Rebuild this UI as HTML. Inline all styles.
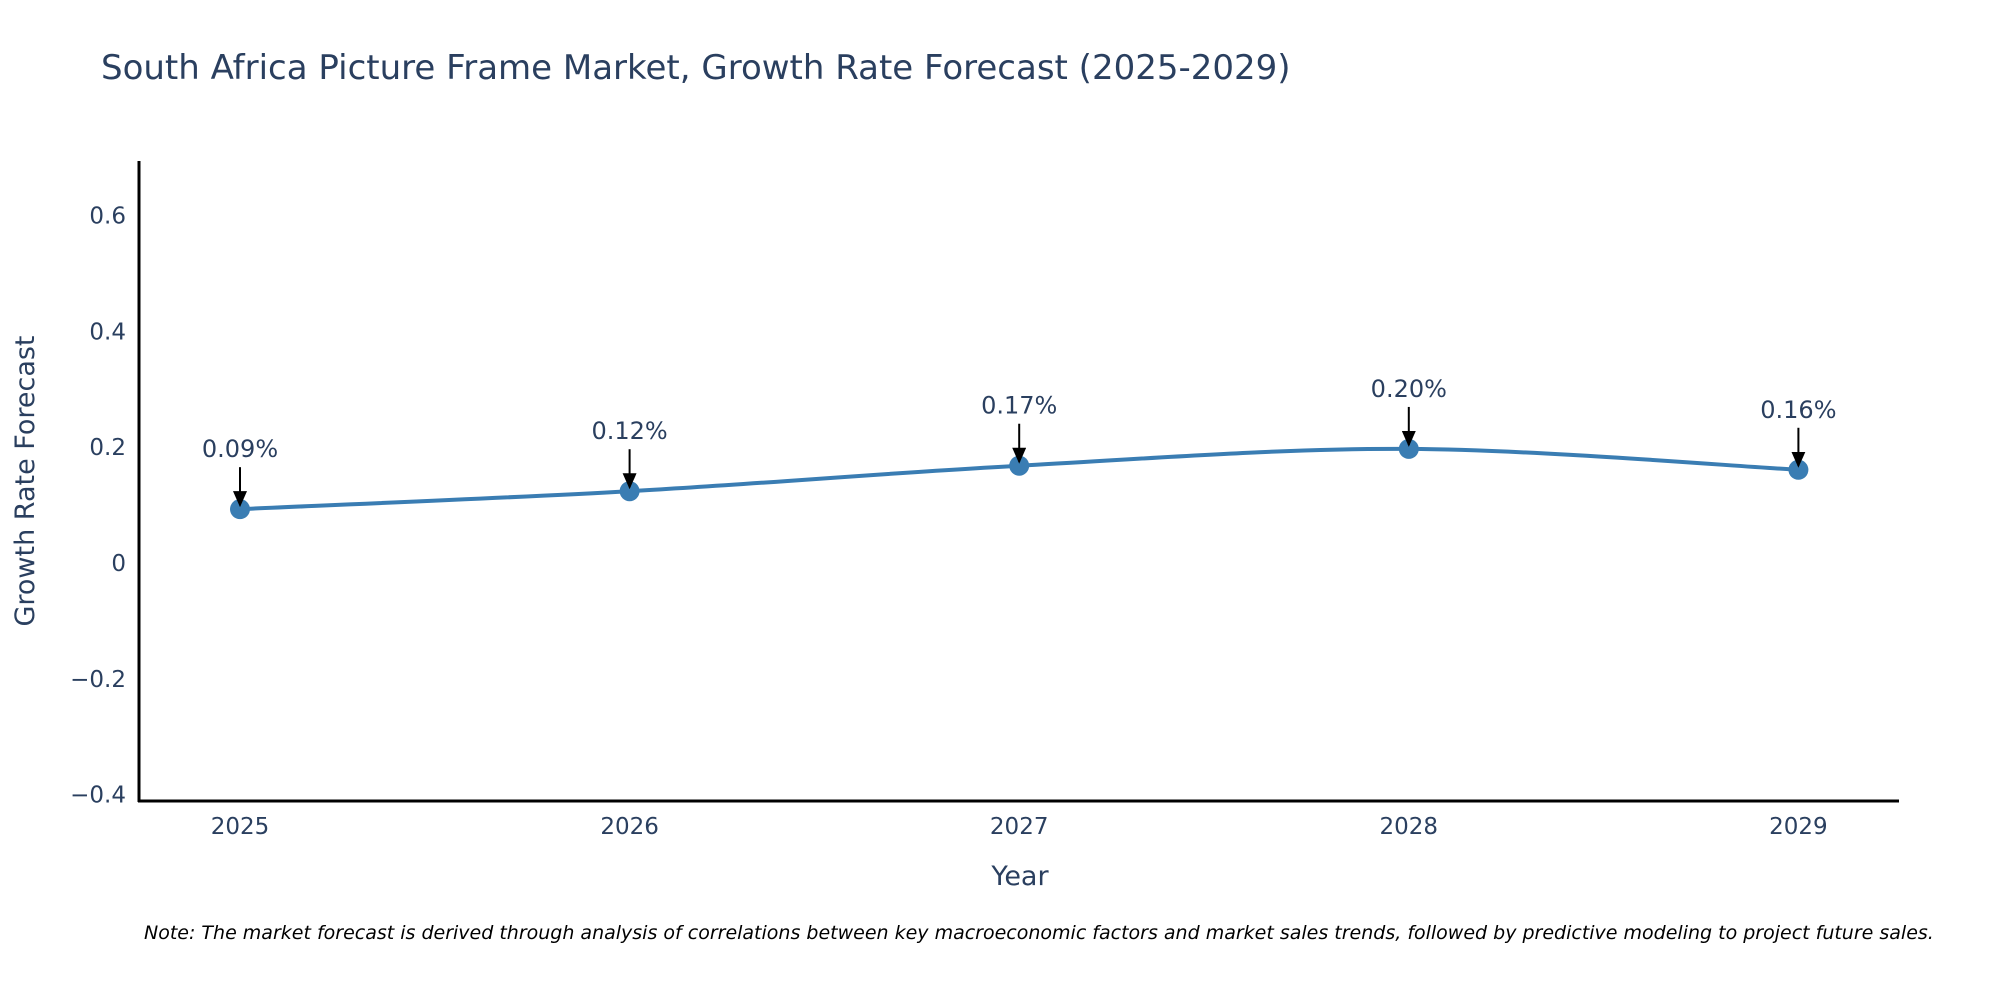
<!DOCTYPE html>
<html><head><meta charset="utf-8"><style>
body{margin:0;background:#fff;}
svg text{font-family:"DejaVu Sans","Liberation Sans",sans-serif;fill:#2a3f5f;}
</style></head><body>
<svg id="chart" width="2000" height="1000" viewBox="0 0 2000 1000" xmlns="http://www.w3.org/2000/svg">
<text x="101" y="79" font-size="34">South Africa Picture Frame Market, Growth Rate Forecast (2025-2029)</text>
<g id="yticks"></g>
<g id="xticks"></g>
<line x1="139" y1="161" x2="139" y2="802" stroke="#000" stroke-width="3"/>
<line x1="138" y1="801" x2="1899" y2="801" stroke="#000" stroke-width="3"/>
<text transform="translate(34,481) rotate(-90)" text-anchor="middle" font-size="27">Growth Rate Forecast</text>
<text x="1020" y="885" text-anchor="middle" font-size="27">Year</text>
<g id="series"></g>
<g id="annots"></g>
<text x="144" y="939" font-size="19" font-style="italic" style="fill:#000">Note: The market forecast is derived through analysis of correlations between key macroeconomic factors and market sales trends, followed by predictive modeling to project future sales.</text>
<defs><marker id="ah" markerWidth="16" markerHeight="14" refX="14" refY="7" orient="auto" markerUnits="userSpaceOnUse" viewBox="0 0 16 14"><path d="M0,0 L16,7 L0,14 z" fill="#000"/></marker></defs>
</svg>
<script>
const years = [2025, 2026, 2027, 2028, 2029];
const growth = [0.093, 0.124, 0.168, 0.197, 0.161];
const labels = ["0.09%", "0.12%", "0.17%", "0.20%", "0.16%"];
const yTickVals = [-0.4, -0.2, 0, 0.2, 0.4, 0.6];
const yTickLabels = ["\u22120.4", "\u22120.2", "0", "0.2", "0.4", "0.6"];

const NS = "http://www.w3.org/2000/svg";
const xPos = v => 240 + (v - 2025) * 389.6;
const yPos = v => 563 - v * 579;
function mk(tag, attrs, parent){const e=document.createElementNS(NS,tag);for(const k in attrs)e.setAttribute(k,attrs[k]);parent.appendChild(e);return e;}

const yg=document.getElementById('yticks');
yTickVals.forEach((v,i)=>{const t=mk('text',{x:126,y:yPos(v)+8,'text-anchor':'end','font-size':23},yg);


t.textContent=yTickLabels[i];});
const xg=document.getElementById('xticks');
years.forEach(v=>{const t=mk('text',{x:xPos(v),y:834,'text-anchor':'middle','font-size':23},xg);


t.textContent=v;});

const pts=years.map((y,i)=>[xPos(y),yPos(growth[i])]);
let d=`M${pts[0][0]},${pts[0][1]}`;
const tension=0.5/3*1.0;
for(let i=0;i<pts.length-1;i++){
  const p0=pts[Math.max(0,i-1)],p1=pts[i],p2=pts[i+1],p3=pts[Math.min(pts.length-1,i+2)];
  const c1=[p1[0]+(p2[0]-p0[0])*tension,p1[1]+(p2[1]-p0[1])*tension];
  const c2=[p2[0]-(p3[0]-p1[0])*tension,p2[1]-(p3[1]-p1[1])*tension];
  d+=` C${c1[0]},${c1[1]} ${c2[0]},${c2[1]} ${p2[0]},${p2[1]}`;
}
const sg=document.getElementById('series');
const line=mk('path',{d:d,fill:'none',stroke:'#3a7db3','stroke-width':4},sg);


pts.forEach(p=>{const c=mk('circle',{cx:p[0],cy:p[1],r:10,fill:'#3a7db3'},sg);

});

const ag=document.getElementById('annots');
pts.forEach((p,i)=>{
  const a=mk('line',{x1:p[0],y1:p[1]-42,x2:p[0],y2:p[1]-4,stroke:'#000','stroke-width':2,'marker-end':'url(#ah)'},ag);
  
  
  const t=mk('text',{x:p[0],y:p[1]-52,'text-anchor':'middle','font-size':24},ag);
  
  
  t.textContent=labels[i];
});
</script>
</body></html>
